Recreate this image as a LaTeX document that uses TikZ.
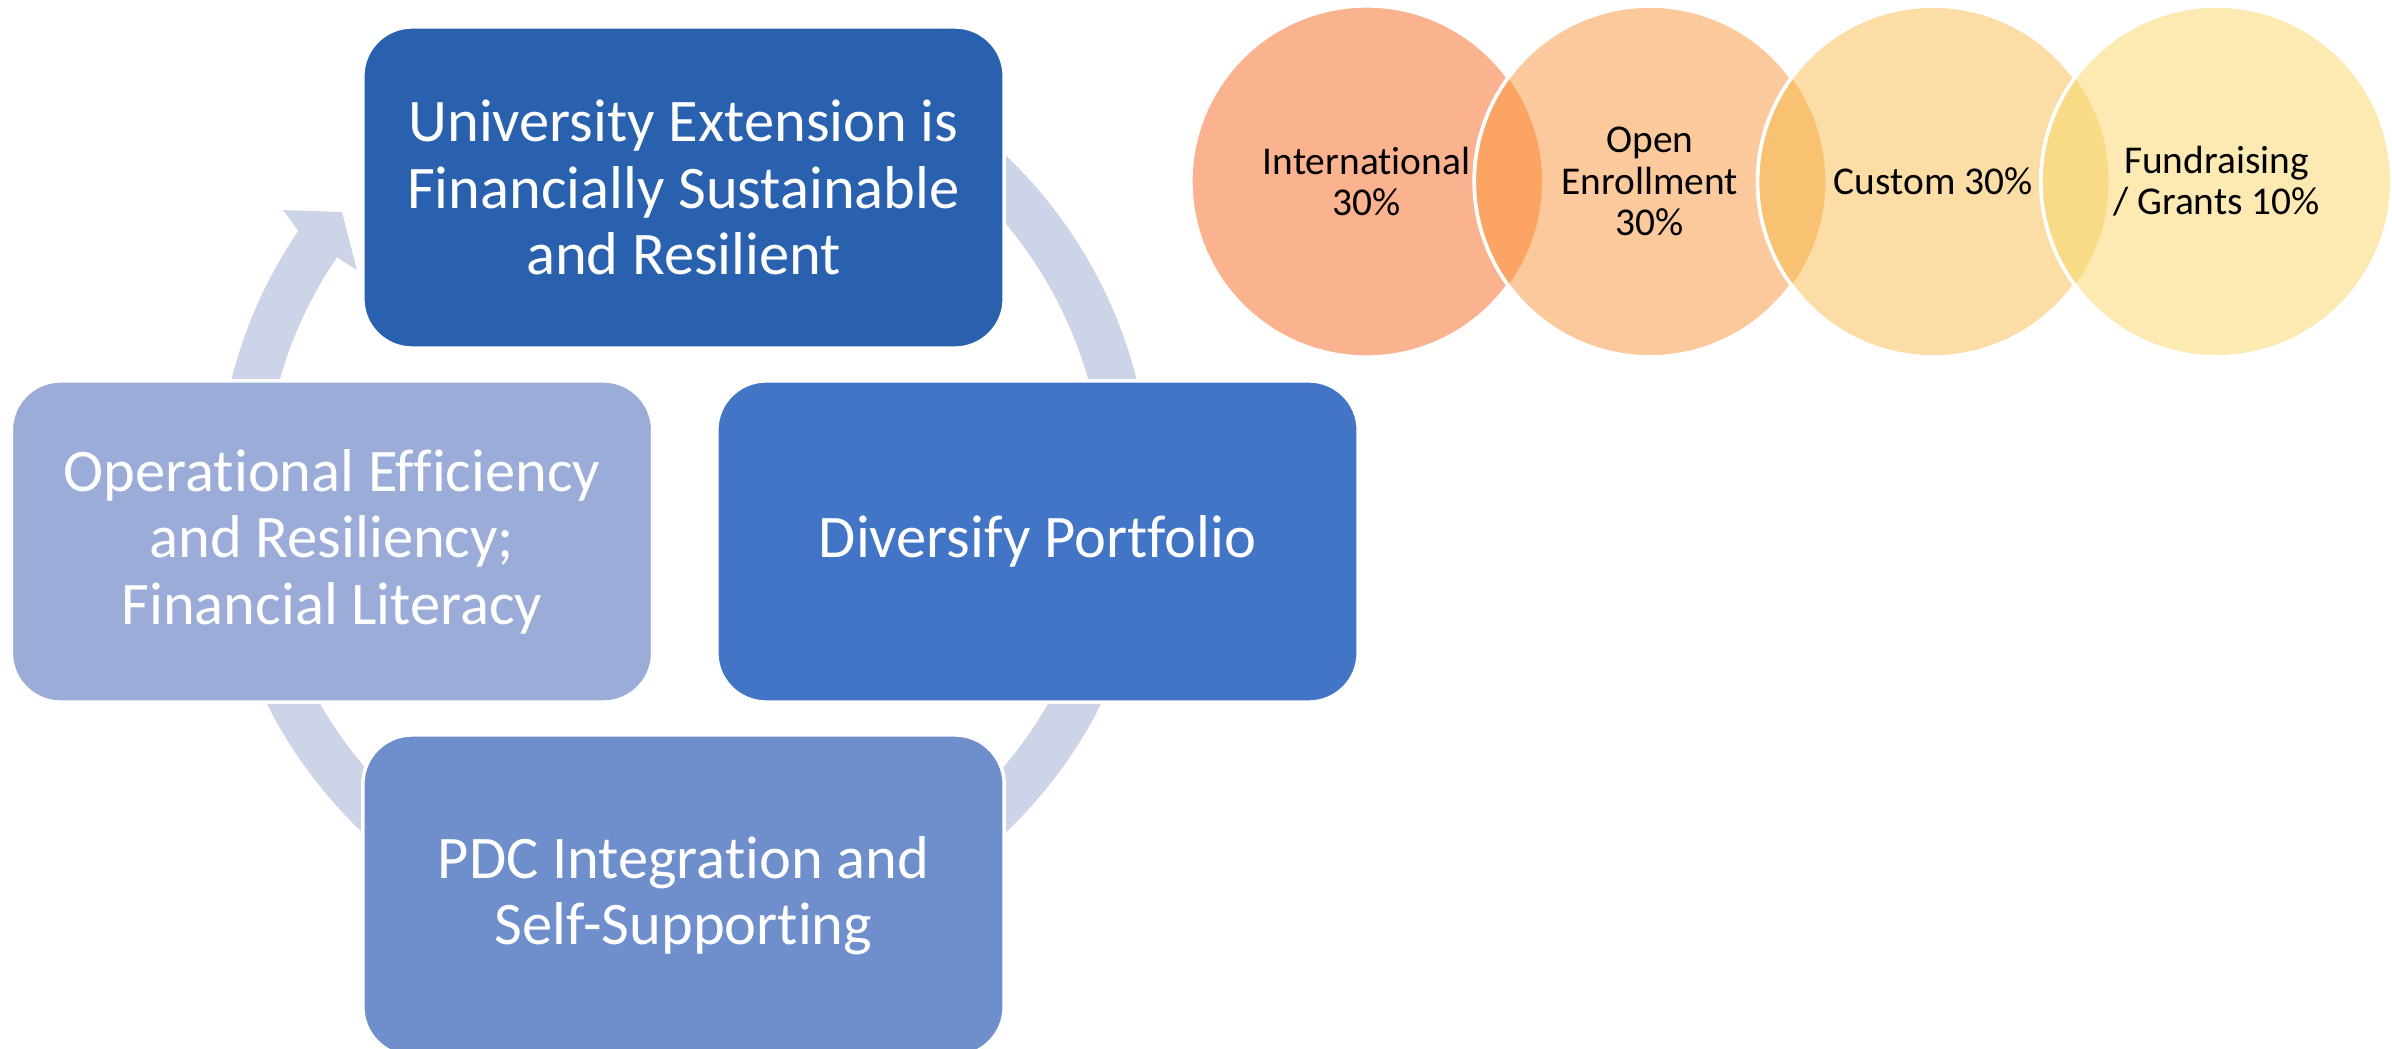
\documentclass[tikz,border=0pt]{standalone}
\usepackage{fontspec}
\setmainfont[Ligatures=NoCommon]{Carlito}
\usetikzlibrary{calc}

\definecolor{goalblue}{HTML}{2A61AE}
\definecolor{portblue}{HTML}{4275C6}
\definecolor{pdcblue}{HTML}{6F8ECC}
\definecolor{opsblue}{HTML}{9BACD8}
\definecolor{ringgray}{HTML}{CDD4E8}
\definecolor{intlfill}{HTML}{FBB28E}
\definecolor{openfill}{HTML}{FBC99C}
\definecolor{custfill}{HTML}{FBDDA5}
\definecolor{fundfill}{HTML}{FCEAB2}
\definecolor{lensone}{HTML}{FBA464}
\definecolor{lenstwo}{HTML}{F9C273}
\definecolor{lensthree}{HTML}{F9DB87}

\tikzset{
  cyclebox/.style={rectangle, rounded corners=14pt, draw=white, line width=1pt,
    minimum width=6.41cm, minimum height=3.21cm, align=center, text=white,
    font=\fontsize{17.2}{18.9}\selectfont},
  venn/.style={circle, draw=white, line width=1pt, minimum size=3.51cm, inner sep=0pt},
  venntext/.style={align=center, text=black, font=\fontsize{11.2}{11.7}\selectfont}
}

\begin{document}
\begin{tikzpicture}[x=0.01cm,y=-0.01cm]
\useasboundingbox (0,0) rectangle (2392,1049);
\def\ringr{443.5}
\coordinate (ctr) at (684,494);

% the cycle ring behind the boxes, with its one visible head
\draw[ringgray, line width=13.3pt] ($(ctr)+(290:\ringr)$) arc[start angle=290, end angle=574.9, radius=\ringr];
\fill[ringgray] ($(ctr)+(215.3:491.4)$) -- ($(ctr)+(219.5:443.3)$) -- ($(ctr)+(214.4:396.4)$)
  -- ($(ctr)+(214.3:420)$) -- ($(ctr)+(214.3:467)$) -- cycle;

\node[cyclebox, fill=goalblue] (goal) at (683.5,187.5) {University Extension is\\Financially Sustainable\\and Resilient};
\node[cyclebox, fill=portblue] (portfolio) at (1037.5,541.5) {Diversify Portfolio};
\node[cyclebox, fill=pdcblue] (pdc) at (683.5,895.5) {PDC Integration and\\Self-Supporting};
\node[cyclebox, fill=opsblue] (ops) at (332,541.5) {Operational Efficiency\\and Resiliency;\\Financial Literacy};

% revenue mix, overlapping circles
\node[venn, fill=intlfill] (intl) at (1366.5,181.5) {};
\node[venn, fill=openfill] (open) at (1649.8,181.5) {};
\begin{scope}
\clip (intl.center) circle (175.5);
\fill[lensone] (open.center) circle (175.5);
\end{scope}
\draw[white, line width=1pt] (open.center) circle (175.5);
\node[venn, fill=custfill] (custom) at (1933.1,181.5) {};
\begin{scope}
\clip (open.center) circle (175.5);
\fill[lenstwo] (custom.center) circle (175.5);
\end{scope}
\draw[white, line width=1pt] (custom.center) circle (175.5);
\node[venn, fill=fundfill] (fund) at (2216.4,181.5) {};
\begin{scope}
\clip (custom.center) circle (175.5);
\fill[lensthree] (fund.center) circle (175.5);
\end{scope}
\draw[white, line width=1pt] (fund.center) circle (175.5);

\node[venntext] (intl text) at (intl) {International\\30\%};
\node[venntext] (open text) at (open) {Open\\Enrollment\\30\%};
\node[venntext] (custom text) at (custom) {Custom 30\%};
\node[venntext] (fund text) at (fund) {Fundraising\\/ Grants 10\%};
\end{tikzpicture}
\end{document}
